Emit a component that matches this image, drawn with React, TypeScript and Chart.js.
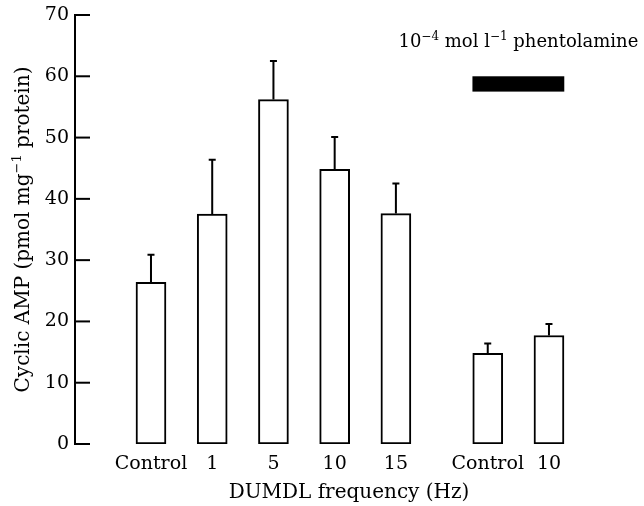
import { useEffect, useRef } from 'react';
import { Chart, registerables } from 'chart.js';

Chart.register(...registerables);

// ---- data ----
const categories = ['Control', '1', '5', '10', '15', 'Control', '10'];
const positions = [0, 1, 2, 3, 4, 5.5, 6.5];
const means = [26.4, 37.5, 56.2, 44.8, 37.6, 14.8, 17.7];
const errorTops = [30.9, 46.4, 62.5, 50.1, 42.5, 16.4, 19.6];
const yTickValues = [0, 10, 20, 30, 40, 50, 60, 70];
const phentolamineSpan = [5.25, 6.75];
const phentolamineLevel = [57.5, 60];
const phentolamineCenter = 6;
const phentolamineTextLevel = 64.7;

type Part = { text: string; sup?: boolean };
const yTitleParts: Part[] = [
  { text: 'Cyclic AMP (pmol mg' },
  { text: '\u22121', sup: true },
  { text: ' protein)' },
];
const phentolamineParts: Part[] = [
  { text: '10' },
  { text: '\u22124', sup: true },
  { text: ' mol l' },
  { text: '\u22121', sup: true },
  { text: ' phentolamine' },
];
const xTitle = 'DUMDL frequency (Hz)';

const FONT = "'DejaVu Serif'";

function drawRich(
  ctx: CanvasRenderingContext2D,
  parts: Part[],
  cx: number,
  baseline: number,
  size: number
) {
  const supSize = Math.round(size * 0.66);
  const widths = parts.map((p) => {
    ctx.font = `${p.sup ? supSize : size}px ${FONT}`;
    return ctx.measureText(p.text).width;
  });
  const total = widths.reduce((a, b) => a + b, 0);
  let x = cx - total / 2;
  ctx.textAlign = 'left';
  ctx.textBaseline = 'alphabetic';
  parts.forEach((p, i) => {
    ctx.font = `${p.sup ? supSize : size}px ${FONT}`;
    ctx.fillText(p.text, x, p.sup ? baseline - size * 0.42 : baseline);
    x += widths[i];
  });
}

const decorPlugin = {
  id: 'decor',
  afterDatasetsDraw(chart: any) {
    const ctx: CanvasRenderingContext2D = chart.ctx;
    const xs = chart.scales.x;
    const ys = chart.scales.y;
    const area = chart.chartArea;
    ctx.save();
    ctx.strokeStyle = '#000';
    ctx.fillStyle = '#000';
    ctx.lineWidth = 2;
    // error bars
    positions.forEach((p, i) => {
      const px = xs.getPixelForValue(p);
      const y0 = ys.getPixelForValue(means[i]);
      const y1 = ys.getPixelForValue(errorTops[i]);
      ctx.beginPath();
      ctx.moveTo(px, y0);
      ctx.lineTo(px, y1);
      ctx.moveTo(px - 3.5, y1);
      ctx.lineTo(px + 3.5, y1);
      ctx.stroke();
    });
    // inward y ticks
    ys.ticks.forEach((t: any) => {
      const py = ys.getPixelForValue(t.value);
      ctx.beginPath();
      ctx.moveTo(area.left, py);
      ctx.lineTo(area.left + 15, py);
      ctx.stroke();
    });
    // phentolamine bar
    const bx0 = xs.getPixelForValue(phentolamineSpan[0]);
    const bx1 = xs.getPixelForValue(phentolamineSpan[1]);
    const by0 = ys.getPixelForValue(phentolamineLevel[1]);
    const by1 = ys.getPixelForValue(phentolamineLevel[0]);
    ctx.fillRect(bx0, by0, bx1 - bx0, by1 - by0);
    // phentolamine label
    drawRich(
      ctx,
      phentolamineParts,
      xs.getPixelForValue(phentolamineCenter),
      ys.getPixelForValue(phentolamineTextLevel),
      18
    );
    // y title
    ctx.save();
    ctx.translate(29, (area.top + area.bottom) / 2);
    ctx.rotate(-Math.PI / 2);
    drawRich(ctx, yTitleParts, 0, 0, 20);
    ctx.restore();
    ctx.restore();
  },
};

export default function App() {
  const ref = useRef<HTMLCanvasElement>(null);
  useEffect(() => {
    if (!ref.current) return;
    const chart = new Chart(ref.current, {
      type: 'bar',
      data: {
        datasets: [
          {
            data: positions.map((x, i) => ({ x, y: means[i] })),
            backgroundColor: '#fff',
            borderColor: '#000',
            borderWidth: 2,
            borderSkipped: false,
            barThickness: 30,
          },
        ],
      },
      options: {
        animation: false,
        responsive: true,
        maintainAspectRatio: false,
        layout: { padding: { left: 0, right: 21, top: 15, bottom: 0 } },
        plugins: { legend: { display: false }, tooltip: { enabled: false } },
        scales: {
          x: {
            type: 'linear',
            min: -1.241,
            max: 7.709,
            offset: false,
            grid: { display: false, drawTicks: false },
            border: { display: false },
            afterBuildTicks: (scale: any) => {
              scale.ticks = positions.map((v) => ({ value: v }));
            },
            afterFit: (scale: any) => {
              scale.height = 62;
            },
            ticks: {
              autoSkip: false,
              maxRotation: 0,
              padding: 9,
              color: '#000',
              font: { family: FONT, size: 19 },
              callback: (_v: any, i: number) => categories[i],
            },
            title: {
              display: true,
              text: xTitle,
              color: '#000',
              font: { family: FONT, size: 20 },
              padding: { top: 0, bottom: 1 },
            },
          },
          y: {
            min: 0,
            max: 70,
            grid: { display: false, drawTicks: false },
            border: { display: true, color: '#000', width: 2 },
            afterBuildTicks: (scale: any) => {
              scale.ticks = yTickValues.map((v) => ({ value: v }));
            },
            afterFit: (scale: any) => {
              scale.width = 75;
              scale.paddingTop = 0;
              scale.paddingBottom = 0;
            },
            ticks: {
              padding: 6,
              color: '#000',
              font: { family: FONT, size: 19 },
            },
          },
        },
      },
      plugins: [decorPlugin],
    });
    return () => chart.destroy();
  }, []);
  return (
    <div style={{ position: 'fixed', left: 0, top: 0, width: 644, height: 506, background: '#fff' }}>
      <canvas ref={ref} />
    </div>
  );
}
